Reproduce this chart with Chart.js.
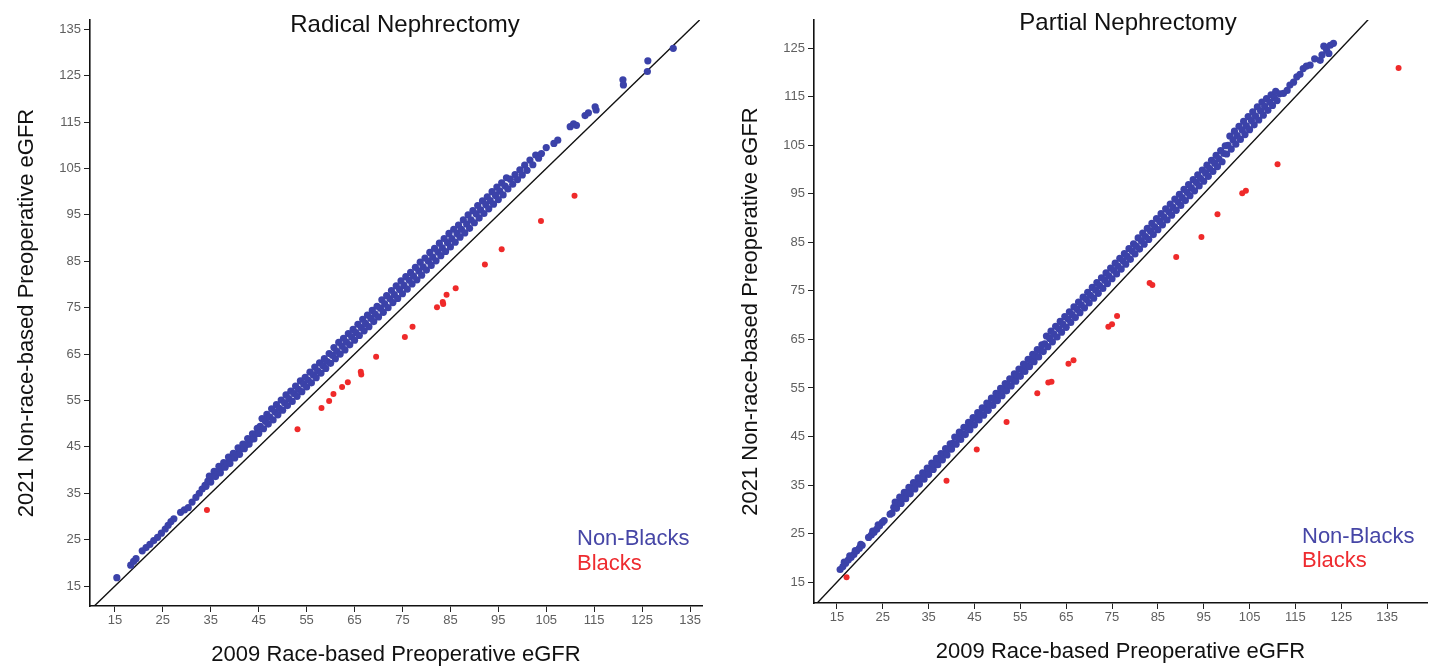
<!DOCTYPE html>
<html>
<head>
<meta charset="utf-8">
<script src="https://cdn.jsdelivr.net/npm/chart.js@4.4.1/dist/chart.umd.min.js"></script>
<style>
  body { margin: 0; background: #fff; }
  .panel { position: absolute; top: 0; }
</style>
</head>
<body>
<div class="panel" style="left:0"><canvas id="radical" width="718" height="668"></canvas></div>
<div class="panel" style="left:718px"><canvas id="partial" width="719" height="668"></canvas></div>
<script>
// tick labels
var xTickValues = [15, 25, 35, 45, 55, 65, 75, 85, 95, 105, 115, 125, 135]
var radicalYTickValues = [15, 25, 35, 45, 55, 65, 75, 85, 95, 105, 115, 125, 135]
var partialYTickValues = [15, 25, 35, 45, 55, 65, 75, 85, 95, 105, 115, 125]

var seriesNames = ["Non-Blacks", "Blacks"]

// y = x reference line, start and end value
var radicalIdentity = [10.7, 137]
var partialIdentity = [10.6, 131]

// Radical nephrectomy: [2009 eGFR, 2021 eGFR]
var radicalNonBlacks = [
  [15.4,16.8],[18.3,19.5],[18.9,20.3],[19.4,20.9],[20.7,22.6],[21.5,23.3],[22.3,24.0],[23.1,24.8],
  [23.9,25.5],[24.7,26.4],[25.5,27.3],[26.1,28.1],[26.7,28.9],[27.3,29.5],[28.7,30.9],[29.5,31.4],
  [30.3,31.9],[31.1,33.1],[31.9,34.1],[32.6,35.0],[33.2,35.9],[33.8,36.7],
  [34.0,36.5],[34.4,37.6],[34.7,38.7],[35.0,37.4],[35.3,38.6],[35.7,39.7],[36.0,38.6],[36.4,39.5],[36.7,40.8],
  [37.0,39.4],[37.3,40.6],[37.7,41.6],[38.0,40.6],[38.4,41.5],[38.7,42.8],[39.0,41.4],[39.3,42.6],[39.7,43.6],
  [40.0,42.6],[40.4,43.5],[40.7,44.8],[41.0,43.4],[41.3,44.6],[41.7,45.6],[42.0,44.6],[42.4,45.5],[42.7,46.8],
  [43.0,45.6],[43.3,46.6],[43.7,47.8],[44.0,46.7],[44.4,47.8],[44.7,49.0],
  [45.0,47.9],[45.3,49.4],[45.7,51.1],[46.0,48.9],[46.4,50.5],[46.7,52.0],[47.0,49.9],[47.3,51.4],[47.7,53.2],
  [48.0,50.8],[48.4,52.5],[48.7,54.1],[49.0,51.9],[49.3,53.3],[49.7,55.1],[50.0,52.9],[50.4,54.5],[50.7,56.2],
  [51.0,53.9],[51.3,55.4],[51.7,57.0],[52.0,54.8],[52.4,56.5],[52.7,58.1],[53.0,55.9],[53.3,57.4],[53.7,59.2],
  [54.0,56.9],[54.4,58.5],[54.7,60.0],[55.0,57.9],[55.3,59.4],[55.7,61.1],[56.0,58.8],[56.4,60.5],[56.7,62.2],
  [57.0,59.9],[57.3,61.4],[57.7,63.1],[58.0,60.9],[58.4,62.5],[58.7,64.0],[59.0,61.9],[59.3,63.4],[59.7,65.1],
  [60.0,63.0],[60.4,64.7],[60.7,66.4],[61.0,64.0],[61.3,65.6],[61.7,67.5],[62.0,65.0],[62.4,66.7],[62.7,68.4],
  [63.0,65.9],[63.3,67.6],[63.7,69.4],[64.0,67.0],[64.4,68.7],[64.7,70.3],[65.0,68.0],[65.3,69.6],[65.7,71.4],
  [66.0,69.0],[66.4,70.7],[66.7,72.5],[67.0,70.0],[67.3,71.6],[67.7,73.4],[68.0,70.9],[68.4,72.7],[68.7,74.4],
  [69.0,72.0],[69.3,73.6],[69.7,75.3],
  [70.0,73.0],[70.4,74.9],[70.7,76.7],[71.0,74.0],[71.3,75.8],[71.7,77.6],[72.0,75.0],[72.4,76.9],[72.7,78.7],
  [73.0,76.1],[73.3,77.8],[73.7,79.7],[74.0,77.0],[74.4,78.9],[74.7,80.8],[75.0,78.0],[75.3,79.8],[75.7,81.7],
  [76.0,79.0],[76.4,80.9],[76.7,82.6],[77.0,80.1],[77.3,81.8],[77.7,83.7],[78.0,81.0],[78.4,82.9],[78.7,84.8],
  [79.0,82.0],[79.3,83.8],[79.7,85.7],
  [80.0,83.1],[80.4,85.0],[80.7,86.9],[81.0,84.1],[81.3,85.9],[81.7,87.8],[82.0,85.1],[82.4,87.0],[82.7,88.9],
  [83.0,86.2],[83.3,87.9],[83.7,89.9],[84.0,87.1],[84.4,89.0],[84.7,91.0],[85.0,88.1],[85.3,89.9],[85.7,91.9],
  [86.0,89.1],[86.4,91.0],[86.7,92.8],[87.0,90.2],[87.3,91.9],[87.7,93.9],[88.0,91.1],[88.4,93.0],[88.7,95.0],
  [89.0,92.1],[89.3,93.9],[89.7,95.9],
  [90.0,93.3],[90.4,95.2],[90.7,97.0],[91.0,94.3],[91.3,96.1],[91.7,98.0],[92.0,95.3],[92.4,97.2],[92.7,98.9],
  [93.0,96.3],[93.3,98.1],[93.7,100.0],[94.0,97.3],[94.4,99.2],[94.7,101.0],[95.0,98.3],[95.3,100.1],[95.7,101.9],
  [96.0,99.3],[96.4,101.2],[96.7,103.0],
  [97.0,100.6],[97.5,102.7],[98.0,101.6],[98.5,103.7],[99.0,102.6],[99.5,104.7],[100.0,103.6],[100.5,105.7],
  [101.0,104.6],[101.6,106.8],[102.2,105.8],[102.8,107.9],[103.4,107.2],[104.0,108.2],[105.0,109.5],
  [106.6,110.4],[107.4,111.1],[110.0,114.0],[110.7,114.6],[111.3,114.3],[113.1,116.4],[113.8,117.0],
  [115.2,118.3],[115.4,117.6],[121.0,124.1],[121.1,123.0],[126.2,128.2],[126.1,125.9],[131.5,130.9]
]
var radicalBlacks = [
  [34.2,31.4],[53.1,48.8],[58.1,53.4],[59.7,54.9],[60.6,56.4],[62.4,57.9],[63.6,58.9],[66.3,61.2],
  [66.4,60.6],[69.5,64.4],[75.5,68.7],[77.1,70.9],[82.2,75.1],[83.4,76.2],[83.5,75.8],[84.2,77.8],
  [86.1,79.2],[92.2,84.3],[95.7,87.6],[103.9,93.7],[110.9,99.1]
]

// Partial nephrectomy: [2009 eGFR, 2021 eGFR]
var partialNonBlacks = [
  [15.7,17.6],[16.3,18.2],[16.6,19.1],[16.9,18.9],[17.5,19.6],[17.8,20.4],[18.1,20.1],[18.7,20.7],[19.0,21.5],
  [19.3,21.4],[19.9,22.0],[20.2,22.8],[20.5,22.6],
  [21.9,24.2],[22.5,24.7],[22.8,25.5],[23.1,25.3],[23.7,25.9],[24.0,26.8],[24.3,26.6],[24.9,27.3],[25.3,27.7],
  [26.6,29.0],
  [27.0,29.2],[27.4,30.4],[27.7,31.5],[28.0,30.2],[28.3,31.3],[28.7,32.5],[29.0,31.2],[29.4,32.4],[29.7,33.5],
  [30.0,32.2],[30.3,33.3],[30.7,34.5],[31.0,33.2],[31.4,34.4],[31.7,35.5],[32.0,34.2],[32.3,35.3],[32.7,36.5],
  [33.0,35.2],[33.4,36.4],[33.7,37.5],[34.0,36.2],[34.3,37.3],[34.7,38.5],[35.0,37.2],[35.4,38.4],[35.7,39.5],
  [36.0,38.2],[36.3,39.3],[36.7,40.5],[37.0,39.2],[37.4,40.4],[37.7,41.5],[38.0,40.2],[38.3,41.3],[38.7,42.5],
  [39.0,41.2],[39.4,42.4],[39.7,43.5],
  [40.0,42.4],[40.3,43.6],[40.7,44.9],[41.0,43.4],[41.4,44.7],[41.7,45.9],[42.0,44.4],[42.3,45.6],[42.7,46.9],
  [43.0,45.4],[43.4,46.7],[43.7,47.9],[44.0,46.4],[44.3,47.6],[44.7,48.9],[45.0,47.4],[45.4,48.7],[45.7,49.9],
  [46.0,48.4],[46.3,49.6],[46.7,50.9],[47.0,49.4],[47.4,50.7],[47.7,51.9],[48.0,50.4],[48.3,51.6],[48.7,52.9],
  [49.0,51.4],[49.4,52.7],[49.7,53.9],[50.0,52.4],[50.3,53.6],[50.7,54.9],[51.0,53.4],[51.4,54.7],[51.7,55.9],
  [52.0,54.4],[52.3,55.6],[52.7,56.9],[53.0,55.4],[53.4,56.7],[53.7,57.9],[54.0,56.4],[54.3,57.6],[54.7,58.9],
  [55.0,57.4],[55.4,58.7],[55.7,59.9],[56.0,58.4],[56.3,59.6],[56.7,60.9],[57.0,59.4],[57.4,60.7],[57.7,61.9],
  [58.0,60.4],[58.3,61.6],[58.7,62.9],[59.0,61.4],[59.4,62.7],[59.7,63.9],
  [60.0,62.5],[60.3,64.1],[60.7,65.7],[61.0,63.5],[61.4,65.2],[61.7,66.7],[62.0,64.5],[62.3,66.1],[62.7,67.7],
  [63.0,65.5],[63.4,67.2],[63.7,68.7],[64.0,66.5],[64.3,68.1],[64.7,69.7],[65.0,67.5],[65.4,69.2],[65.7,70.7],
  [66.0,68.5],[66.3,70.1],[66.7,71.7],[67.0,69.5],[67.4,71.2],[67.7,72.7],[68.0,70.5],[68.3,72.1],[68.7,73.7],
  [69.0,71.5],[69.4,73.2],[69.7,74.7],[70.0,72.5],[70.3,74.1],[70.7,75.7],[71.0,73.5],[71.4,75.2],[71.7,76.7],
  [72.0,74.5],[72.3,76.1],[72.7,77.7],[73.0,75.5],[73.4,77.2],[73.7,78.7],[74.0,76.5],[74.3,78.1],[74.7,79.7],
  [75.0,77.5],[75.4,79.2],[75.7,80.7],[76.0,78.5],[76.3,80.1],[76.7,81.7],[77.0,79.5],[77.4,81.2],[77.7,82.7],
  [78.0,80.5],[78.3,82.1],[78.7,83.7],[79.0,81.5],[79.4,83.2],[79.7,84.7],
  [80.0,82.6],[80.3,84.2],[80.7,85.9],[81.0,83.6],[81.4,85.3],[81.7,86.9],[82.0,84.6],[82.3,86.2],[82.7,87.9],
  [83.0,85.6],[83.4,87.3],[83.7,88.9],[84.0,86.6],[84.3,88.2],[84.7,89.9],[85.0,87.6],[85.4,89.3],[85.7,90.9],
  [86.0,88.6],[86.3,90.2],[86.7,91.9],[87.0,89.6],[87.4,91.3],[87.7,92.9],[88.0,90.6],[88.3,92.2],[88.7,93.9],
  [89.0,91.6],[89.4,93.3],[89.7,94.9],[90.0,92.6],[90.3,94.2],[90.7,95.9],[91.0,93.6],[91.4,95.3],[91.7,96.9],
  [92.0,94.6],[92.3,96.2],[92.7,97.9],[93.0,95.6],[93.4,97.3],[93.7,98.9],[94.0,96.6],[94.3,98.2],[94.7,99.9],
  [95.0,97.6],[95.4,99.3],[95.7,100.9],[96.0,98.6],[96.3,100.2],[96.7,101.9],[97.0,99.6],[97.4,101.3],[97.7,102.9],
  [98.0,100.6],[98.3,102.2],[98.7,103.9],[99.0,101.6],[99.4,103.3],[99.7,104.9],
  [100.0,103.2],[100.3,105.0],[100.7,106.9],[101.0,104.2],[101.4,106.1],[101.7,107.9],[102.0,105.2],[102.3,107.0],
  [102.7,108.9],[103.0,106.2],[103.4,108.1],[103.7,109.9],[104.0,107.2],[104.3,109.0],[104.7,110.9],[105.0,108.2],
  [105.4,110.1],[105.7,111.9],[106.0,109.2],[106.3,111.0],[106.7,112.9],[107.0,110.2],[107.4,112.1],[107.7,113.9],
  [108.0,111.2],[108.3,113.0],[108.7,114.6],[109.0,112.2],[109.4,113.9],[109.7,115.4],[110.0,113.2],[110.4,114.8],
  [110.7,116.1],[111.0,114.2],[111.6,115.6],
  [112.4,115.7],[113.2,116.3],[113.8,117.4],[114.6,118.0],[115.3,119.1],[116.0,119.6],[116.7,120.8],[117.4,121.3],
  [118.2,121.5],[119.2,122.8],[120.4,122.5],[120.8,123.6],[121.2,125.4],[121.8,124.6],[122.3,123.9],[122.6,125.6],
  [123.3,126.0]
]
var partialBlacks = [
  [17.1,16.0],[38.9,35.9],[45.5,42.3],[52.0,48.0],[58.7,53.9],[61.1,56.1],[61.8,56.3],[65.5,60.0],
  [66.6,60.7],[74.2,67.6],[75.0,68.1],[76.1,69.8],[83.2,76.6],[83.8,76.2],[89.0,82.0],[94.5,86.1],
  [98.0,90.8],[103.4,95.1],[104.2,95.6],[111.1,101.1],[137.5,120.9]
]

var fontFamily = '"Liberation Sans", Arial, Helvetica, sans-serif'
Chart.defaults.font.family = fontFamily

// title and the coloured key are drawn inside the plot area
var panelText = {
  id: 'panelText',
  afterDraw(chart, args, opts) {
    var ctx = chart.ctx
    ctx.save()
    ctx.fillStyle = '#111'
    ctx.font = '24px ' + fontFamily
    ctx.textAlign = 'center'
    ctx.textBaseline = 'alphabetic'
    ctx.fillText(opts.title, opts.titleX, opts.titleY)
    ctx.font = '22px ' + fontFamily
    ctx.textAlign = 'left'
    ctx.textBaseline = 'middle'
    var row = 0
    chart.data.datasets.forEach(ds => {
      if (!ds.inKey) return
      ctx.fillStyle = ds.keyColor
      ctx.fillText(ds.label, opts.keyX, opts.keyY + row * opts.keyGap)
      row++
    })
    ctx.restore()
  }
}

function toPoints(pairs) {
  return pairs.map(p => ({x: p[0], y: p[1]}))
}

function makePanel(id, cfg) {
  return new Chart(document.getElementById(id), {
    type: 'scatter',
    data: {
      datasets: [
        {
          label: seriesNames[0],
          data: toPoints(cfg.nonBlacks),
          backgroundColor: '#3b42a9',
          keyColor: '#4646a6',
          inKey: true,
          pointRadius: 3.6,
          borderWidth: 0
        },
        {
          label: seriesNames[1],
          data: toPoints(cfg.blacks),
          backgroundColor: '#ef2a2a',
          keyColor: '#ee2b2f',
          inKey: true,
          pointRadius: 3,
          borderWidth: 0
        },
        {
          label: 'identity',
          type: 'line',
          data: [{x: cfg.identity[0], y: cfg.identity[0]}, {x: cfg.identity[1], y: cfg.identity[1]}],
          borderColor: '#111',
          borderWidth: 1.4,
          pointRadius: 0,
          fill: false
        }
      ]
    },
    options: {
      responsive: false,
      animation: false,
      events: [],
      layout: { padding: { top: 20, right: cfg.padRight, left: 0, bottom: 0 } },
      scales: {
        x: {
          type: 'linear',
          min: cfg.xMin,
          max: cfg.xMax,
          afterFit: s => { s.height = cfg.xAxisHeight },
          afterBuildTicks: s => { s.ticks = xTickValues.map(v => ({value: v})) },
          ticks: { color: '#5f5f5f', font: { size: 13 }, padding: 1, autoSkip: false, maxRotation: 0 },
          grid: { drawOnChartArea: false, drawTicks: true, tickLength: 6, color: '#222' },
          border: { display: true, color: '#111', width: 1.6 },
          title: {
            display: true,
            text: '2009 Race-based Preoperative eGFR',
            color: '#111',
            font: { size: 22 },
            padding: { top: 0, bottom: cfg.xTitlePad }
          }
        },
        y: {
          type: 'linear',
          min: cfg.yMin,
          max: cfg.yMax,
          afterFit: s => { s.width = cfg.yAxisWidth },
          afterBuildTicks: s => { s.ticks = cfg.yTicks.map(v => ({value: v})) },
          ticks: { color: '#5f5f5f', font: { size: 13 }, padding: 3, autoSkip: false },
          grid: { drawOnChartArea: false, drawTicks: true, tickLength: 6, color: '#222' },
          border: { display: true, color: '#111', width: 1.6 },
          title: {
            display: true,
            text: '2021 Non-race-based Preoperative eGFR',
            color: '#111',
            font: { size: 22 },
            padding: { top: cfg.yTitlePad, bottom: 0 }
          }
        }
      },
      plugins: {
        legend: { display: false },
        tooltip: { enabled: false },
        panelText: cfg.text
      }
    },
    plugins: [panelText]
  })
}

makePanel('radical', {
  nonBlacks: radicalNonBlacks,
  blacks: radicalBlacks,
  identity: radicalIdentity,
  yTicks: radicalYTickValues,
  xMin: 9.8, xMax: 137.5, yMin: 10.7, yMax: 137,
  padRight: 16, xAxisHeight: 62, yAxisWidth: 90, xTitlePad: 0, yTitlePad: 14,
  text: { title: 'Radical Nephrectomy', titleX: 405, titleY: 32, keyX: 577, keyY: 539, keyGap: 25 }
})

makePanel('partial', {
  nonBlacks: partialNonBlacks,
  blacks: partialBlacks,
  identity: partialIdentity,
  yTicks: partialYTickValues,
  xMin: 10, xMax: 143.7, yMin: 10.7, yMax: 130.8,
  padRight: 10, xAxisHeight: 65, yAxisWidth: 96, xTitlePad: 3, yTitlePad: 20,
  text: { title: 'Partial Nephrectomy', titleX: 410, titleY: 30, keyX: 584, keyY: 537, keyGap: 24 }
})
</script>
</body>
</html>
